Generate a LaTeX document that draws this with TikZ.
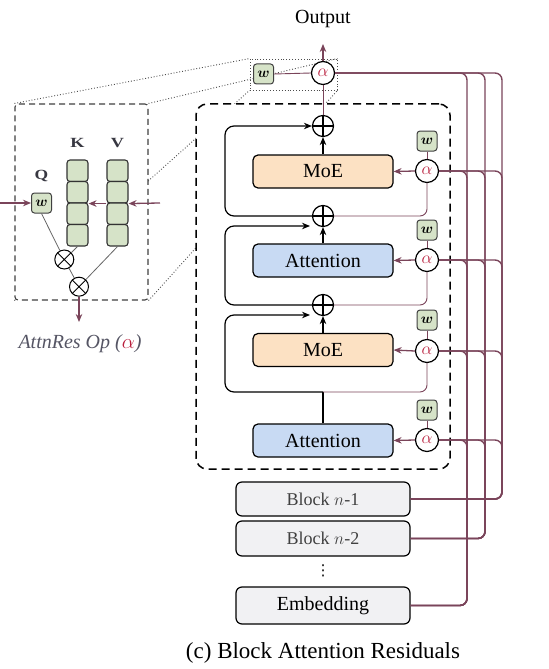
\documentclass[tikz,border=0pt]{standalone}
\usepackage{amsmath}
\usepackage{bm}
\usepackage{fontspec}
\setmainfont{Liberation Serif}
\newfontfamily\djv{DejaVu Sans}
\usetikzlibrary{arrows.meta,calc}
\pgfdeclarelayer{bg}
\pgfsetlayers{bg,main}
\definecolor{mauve}{RGB}{122,68,90}
\definecolor{ared}{RGB}{185,30,60}
\definecolor{moefill}{RGB}{252,225,195}
\definecolor{attfill}{RGB}{200,218,243}
\definecolor{wfill}{RGB}{214,227,200}
\definecolor{blkfill}{RGB}{241,241,243}
\definecolor{inktext}{RGB}{85,85,100}
\definecolor{lbltext}{RGB}{55,55,65}
\begin{document}
\begin{tikzpicture}[x=1bp,y=-1bp,
  layerbox/.style={draw=black, line width=1.2bp, rounded corners=5bp, minimum width=140bp, minimum height=33bp, inner sep=0pt, font=\fontsize{20bp}{24bp}\selectfont},
  moe/.style={layerbox, fill=moefill},
  att/.style={layerbox, fill=attfill},
  blkbox/.style={draw=black, line width=1.2bp, rounded corners=6bp, fill=blkfill, minimum width=174bp, minimum height=34bp, inner sep=0pt},
  plusnode/.style={circle, draw=black, line width=1.2bp, fill=white, minimum size=21bp, inner sep=0pt,
    path picture={\draw[line width=1.1bp] (path picture bounding box.north) -- (path picture bounding box.south) (path picture bounding box.west) -- (path picture bounding box.east);}},
  timesnode/.style={circle, draw=black, line width=1bp, fill=white, minimum size=19bp, inner sep=0pt,
    path picture={\draw[line width=0.9bp] (path picture bounding box.north west) -- (path picture bounding box.south east) (path picture bounding box.south west) -- (path picture bounding box.north east);}},
  alphanode/.style={circle, draw=black, line width=1.2bp, fill=white, minimum size=23bp, inner sep=0pt, text=ared, font=\fontsize{17bp}{17bp}\selectfont},
  wbox/.style={draw=black!75, line width=1bp, fill=wfill, rounded corners=3bp, minimum size=20bp, inner sep=0pt, font=\fontsize{15bp}{15bp}\selectfont},
  kvbox/.style={draw=black!80, line width=1.1bp, fill=wfill, rounded corners=3bp, minimum width=21bp, minimum height=21.5bp, inner sep=0pt},
  blkline/.style={black, line width=1.2bp},
  blkarrow/.style={black, line width=1.2bp, -{Stealth[length=8bp,width=6.5bp]}},
  thinm/.style={mauve, line width=0.9bp},
  bus/.style={mauve, line width=1.4bp, rounded corners=7bp},
  marrow/.style={mauve, line width=1.3bp, -{Stealth[length=8bp,width=6.5bp]}},
  gline/.style={black!60, line width=0.8bp},
  dotline/.style={black!70, line width=0.9bp, dotted},
  lbl/.style={text=lbltext, font=\fontsize{14bp}{14bp}\selectfont, inner sep=0pt}
]
\useasboundingbox (0,0) rectangle (549,669);

% ---------- frames ----------
\node[draw=black!75, line width=1.1bp, dash pattern=on 6bp off 4bp, fill=white, rounded corners=3bp,
      minimum width=133bp, minimum height=196bp, inner sep=0pt] (ins) at (81.5,202) {};
\node[draw=black, line width=1.5bp, dash pattern=on 8bp off 5bp, fill=white, rounded corners=11bp,
      minimum width=254bp, minimum height=365bp, inner sep=0pt] (mainbox) at (323,286.5) {};
\node[draw=black!70, line width=0.9bp, dotted, minimum width=87bp, minimum height=31bp, inner sep=0pt] (zr) at (293.5,74.5) {};

\begin{pgfonlayer}{bg}
\draw[dotline] (ins.north west) -- (zr.north west);
\draw[dotline] (ins.north east) -- (zr.north east);
\draw[dotline] (ins.south west) -- (zr.south west);
\draw[dotline] (ins.south east) -- (zr.south east);
\end{pgfonlayer}

% ---------- top ----------
\node[font=\fontsize{20bp}{24bp}\selectfont] (out) at (323,19) {Output};
\coordinate (outtip) at (323,44);
\node[alphanode] (a0) at (323,73) {$\alpha$};
\node[wbox] (w0) at (263.5,74) {$\bm{w}$};

% ---------- layers ----------
\node[plusnode] (p1) at (323,126) {};
\node[plusnode] (p2) at (323,216) {};
\node[plusnode] (p3) at (323,305) {};
\node[moe] (moe1) at (323,171.5) {MoE};
\node[att] (att1) at (323,260.5) {Attention};
\node[moe] (moe2) at (323,350) {MoE};
\node[att] (att2) at (323,440.5) {Attention};
\coordinate (j) at (323,392);
\coordinate (lx) at (225,0);
\coordinate (p2in) at (310,226);
\coordinate (p3in) at (310,315);

\node[alphanode] (a1) at (427,171) {$\alpha$};
\node[alphanode] (a2) at (427,260) {$\alpha$};
\node[alphanode] (a3) at (427,351) {$\alpha$};
\node[alphanode] (a4) at (427,440) {$\alpha$};
\node[wbox] (w1) at (427,141) {$\bm{w}$};
\node[wbox] (w2) at (427,230) {$\bm{w}$};
\node[wbox] (w3) at (427,320) {$\bm{w}$};
\node[wbox] (w4) at (427,410) {$\bm{w}$};

% ---------- blocks ----------
\node[blkbox, text=black!75, font=\fontsize{18bp}{22bp}\selectfont] (bn1) at (323,499) {Block $n$-1};
\node[blkbox, text=black!75, font=\fontsize{18bp}{22bp}\selectfont, minimum height=35bp] (bn2) at (323,538.5) {Block $n$-2};
\node[font=\djv\fontsize{15bp}{15bp}\selectfont, inner sep=0pt] (dots) at (323,571) {⋮};
\node[blkbox, font=\fontsize{20bp}{24bp}\selectfont, minimum height=37bp] (emb) at (323,605.5) {Embedding};
\coordinate (bE) at (467,0);
\coordinate (b2) at (485,0);
\coordinate (b1) at (502,0);

% ---------- caption ----------
\node[font=\fontsize{23bp}{27bp}\selectfont] (cap) at (323,653) {(c) Block Attention Residuals};

% ---------- black residual paths ----------
\draw[blkarrow] (moe1.north) -- (p1.south);
\draw[blkarrow] (att1.north) -- (p2.south);
\draw[blkarrow] (moe2.north) -- (p3.south);
\draw[blkline] (att2.north) -- (j);
\draw[blkarrow, rounded corners=9bp] (p2.west) -| (lx |- p1) -- (p1.west);
\draw[blkarrow, rounded corners=9bp] (p3.west) -| (lx |- p2in) -- (p2in);
\draw[blkarrow, rounded corners=9bp] (j) -| (lx |- p3in) -- (p3in);

% ---------- mauve internal ----------
\draw[thinm] (p1.north) -- (a0.south);
\draw[thinm, rounded corners=7bp] (p2.east) -| (a1.south);
\draw[thinm, rounded corners=7bp] (p3.east) -| (a2.south);
\draw[thinm, rounded corners=7bp] (j) -| (a3.south);
\draw[thinm] (w0.east) -- (a0.west);
\foreach \i in {1,2,3,4} { \draw[thinm] (w\i.south) -- (a\i.north); }
\draw[marrow] (a0.north) -- (outtip);
\draw[marrow] (a1.west) -- (moe1.east);
\draw[marrow] (a2.west) -- (att1.east);
\draw[marrow] (a3.west) -- (moe2.east);
\draw[marrow] (a4.west) -- (att2.east);

% ---------- buses ----------
\foreach \a in {a0,a1,a2,a3,a4} {
  \draw[bus] (emb.east) -| (bE |- \a) -- (\a.east);
  \draw[bus] (bn2.east) -| (b2 |- \a) -- (\a.east);
  \draw[bus] (bn1.east) -| (b1 |- \a) -- (\a.east);
}

% ---------- inset ----------
\node[wbox] (qw) at (41.5,203) {$\bm{w}$};
\node[lbl] (ql) at (41.5,176) {\scalebox{1.25}[1]{$\mathbf{Q}$}};
\node[lbl] (kl) at (77.5,143) {\scalebox{1.3}[1]{$\mathbf{K}$}};
\node[lbl] (vl) at (117.5,143) {\scalebox{1.3}[1]{$\mathbf{V}$}};
\foreach \i/\y in {1/170.75,2/192.25,3/213.75,4/235.25} {
  \node[kvbox] (k\i) at (77.5,\y) {};
  \node[kvbox] (v\i) at (117.5,\y) {};
}
\node[timesnode] (x1) at (64.3,259.5) {};
\node[timesnode] (x2) at (79,286.7) {};
\coordinate (inL) at (0,203);
\coordinate (inR) at (160,203);
\coordinate (opout) at (79,322);
\draw[marrow] (inL) -- (qw.west);
\draw[marrow] (inR) -- (v2.south east);
\draw[marrow] (v2.south west) -- (k2.south east);
\draw[gline] (qw.south) -- (x1);
\draw[gline] (k4.south) -- (x1);
\draw[gline] (x1) -- (x2);
\draw[gline] (v4.south) -- (x2);
\draw[marrow] (x2.south) -- (opout);
\node[text=inktext, font=\fontsize{20bp}{24bp}\selectfont\itshape] (opl) at (80,344) {AttnRes Op (\textcolor{ared}{$\alpha$})};
\end{tikzpicture}
\end{document}
